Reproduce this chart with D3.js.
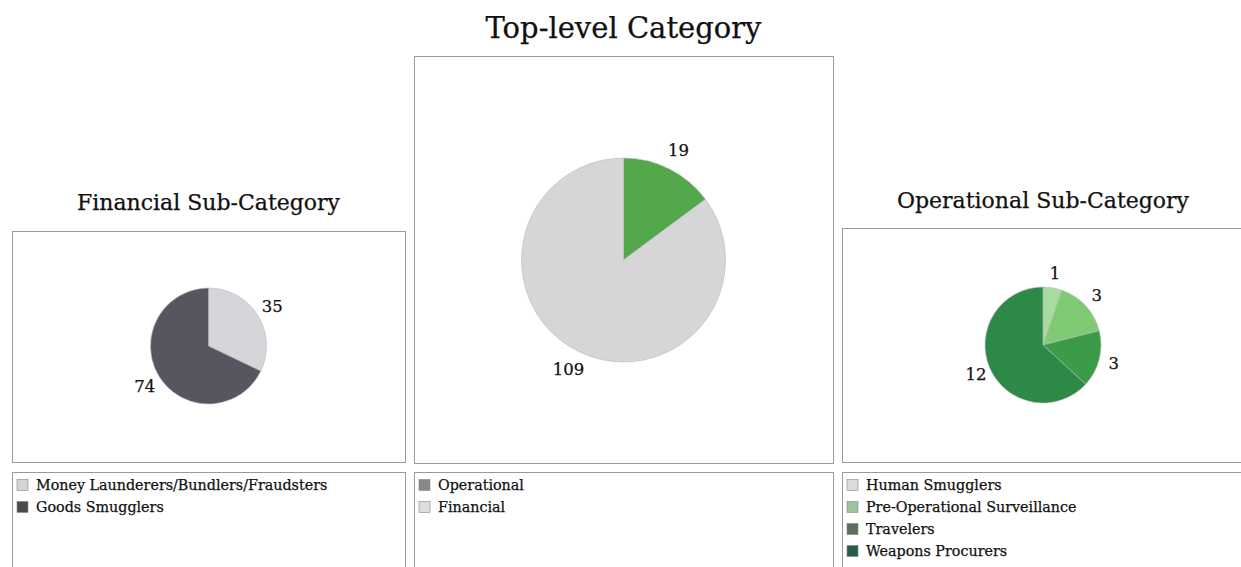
<!DOCTYPE html>
<html>
<head>
<meta charset="utf-8">
<script src="https://cdn.jsdelivr.net/npm/d3@7"></script>
<style>
  body { margin: 0; background: #fff; }
  text { font-family: "DejaVu Serif", serif; fill: #111; stroke: #111; stroke-width: 0.25px; }
</style>
</head>
<body>
<svg id="canvas"></svg>
<script>
const topLabels = ["Operational", "Financial"];
const topValues = [19, 109];
const topColors = ["#52a84a", "#d6d6d8"];
const topLegendColors = ["#888888", "#dedede"];

const finLabels = ["Money Launderers/Bundlers/Fraudsters", "Goods Smugglers"];
const finValues = [35, 74];
const finColors = ["#d6d6da", "#565661"];
const finLegendColors = ["#d4d4d4", "#4a4a4a"];

const opLabels = ["Human Smugglers", "Pre-Operational Surveillance", "Travelers", "Weapons Procurers"];
const opValues = [1, 3, 3, 12];
const opColors = ["#a9dba0", "#7fcb73", "#3b9b48", "#2d8a46"];
const opLegendColors = ["#d9ddd9", "#9cc49c", "#5d6e5d", "#275c48"];

const width = 1241,
    height = 567;

const svg = d3.select("#canvas")
    .attr("width", width)
    .attr("height", height);

const panels = [
    {
        title: "Financial Sub-Category", titleY: 210,
        box: { x: 12, y: 231, w: 393, h: 231 },
        legend: { x: 12, y: 472, w: 393, h: 110 },
        radius: 58, cy: 346,
        labels: finLabels, values: finValues, colors: finColors, legendColors: finLegendColors,
        labelR: 1.3
    },
    {
        title: "Top-level Category", titleY: 38, titleSize: 29,
        box: { x: 414, y: 56, w: 419, h: 407 },
        legend: { x: 414, y: 472, w: 419, h: 110 },
        radius: 102, cy: 260,
        labels: topLabels, values: topValues, colors: topColors, legendColors: topLegendColors,
        labelR: 1.2
    },
    {
        title: "Operational Sub-Category", titleY: 208,
        box: { x: 842, y: 228, w: 410, h: 234 },
        legend: { x: 842, y: 472, w: 410, h: 110 },
        radius: 58, cy: 345, cx: 1043,
        labels: opLabels, values: opValues, colors: opColors, legendColors: opLegendColors,
        labelR: 1.26
    }
];

panels.forEach(p => renderPanel(svg.append("g"), p));

function renderPanel(root, p) {
    const cx = p.cx || p.box.x + p.box.w / 2;

    root.append("text")
        .attr("x", cx)
        .attr("y", p.titleY)
        .attr("text-anchor", "middle")
        .style("font-size", (p.titleSize || 22) + "px")
        .text(p.title);

    root.append("rect")
        .attr("x", p.box.x + 0.5).attr("y", p.box.y + 0.5)
        .attr("width", p.box.w).attr("height", p.box.h)
        .attr("fill", "#fff").attr("stroke", "#9a9a9a");

    const pie = d3.pie().sort(null).value(d => d)(p.values);
    const arc = d3.arc().innerRadius(0).outerRadius(p.radius);
    const labelArc = d3.arc().innerRadius(p.radius * p.labelR).outerRadius(p.radius * p.labelR);

    const g = root.append("g").attr("transform", `translate(${cx}, ${p.cy})`);
    g.selectAll("path")
        .data(pie)
        .join("path")
        .attr("d", arc)
        .attr("fill", (d, i) => p.colors[i])
        .attr("stroke", "#b8b8b8")
        .attr("stroke-width", 0.6);

    g.selectAll("text")
        .data(pie)
        .join("text")
        .attr("transform", d => `translate(${labelArc.centroid(d)})`)
        .attr("text-anchor", "middle")
        .attr("dy", "0.35em")
        .style("font-size", "16.5px")
        .text(d => d.value);

    root.append("rect")
        .attr("x", p.legend.x + 0.5).attr("y", p.legend.y + 0.5)
        .attr("width", p.legend.w).attr("height", p.legend.h)
        .attr("fill", "#fff").attr("stroke", "#9a9a9a");

    const items = root.append("g")
        .selectAll("g")
        .data(p.labels)
        .join("g")
        .attr("transform", (d, i) => `translate(${p.legend.x + 5}, ${p.legend.y + 13 + i * 22})`);
    items.append("rect")
        .attr("x", 0).attr("y", -5.5)
        .attr("width", 11).attr("height", 11)
        .attr("fill", (d, i) => p.legendColors[i])
        .attr("stroke", "#888").attr("stroke-width", 0.6);
    items.append("text")
        .attr("x", 19)
        .attr("dy", "0.35em")
        .style("font-size", "14.3px")
        .text(d => d);
}
</script>
</body>
</html>
